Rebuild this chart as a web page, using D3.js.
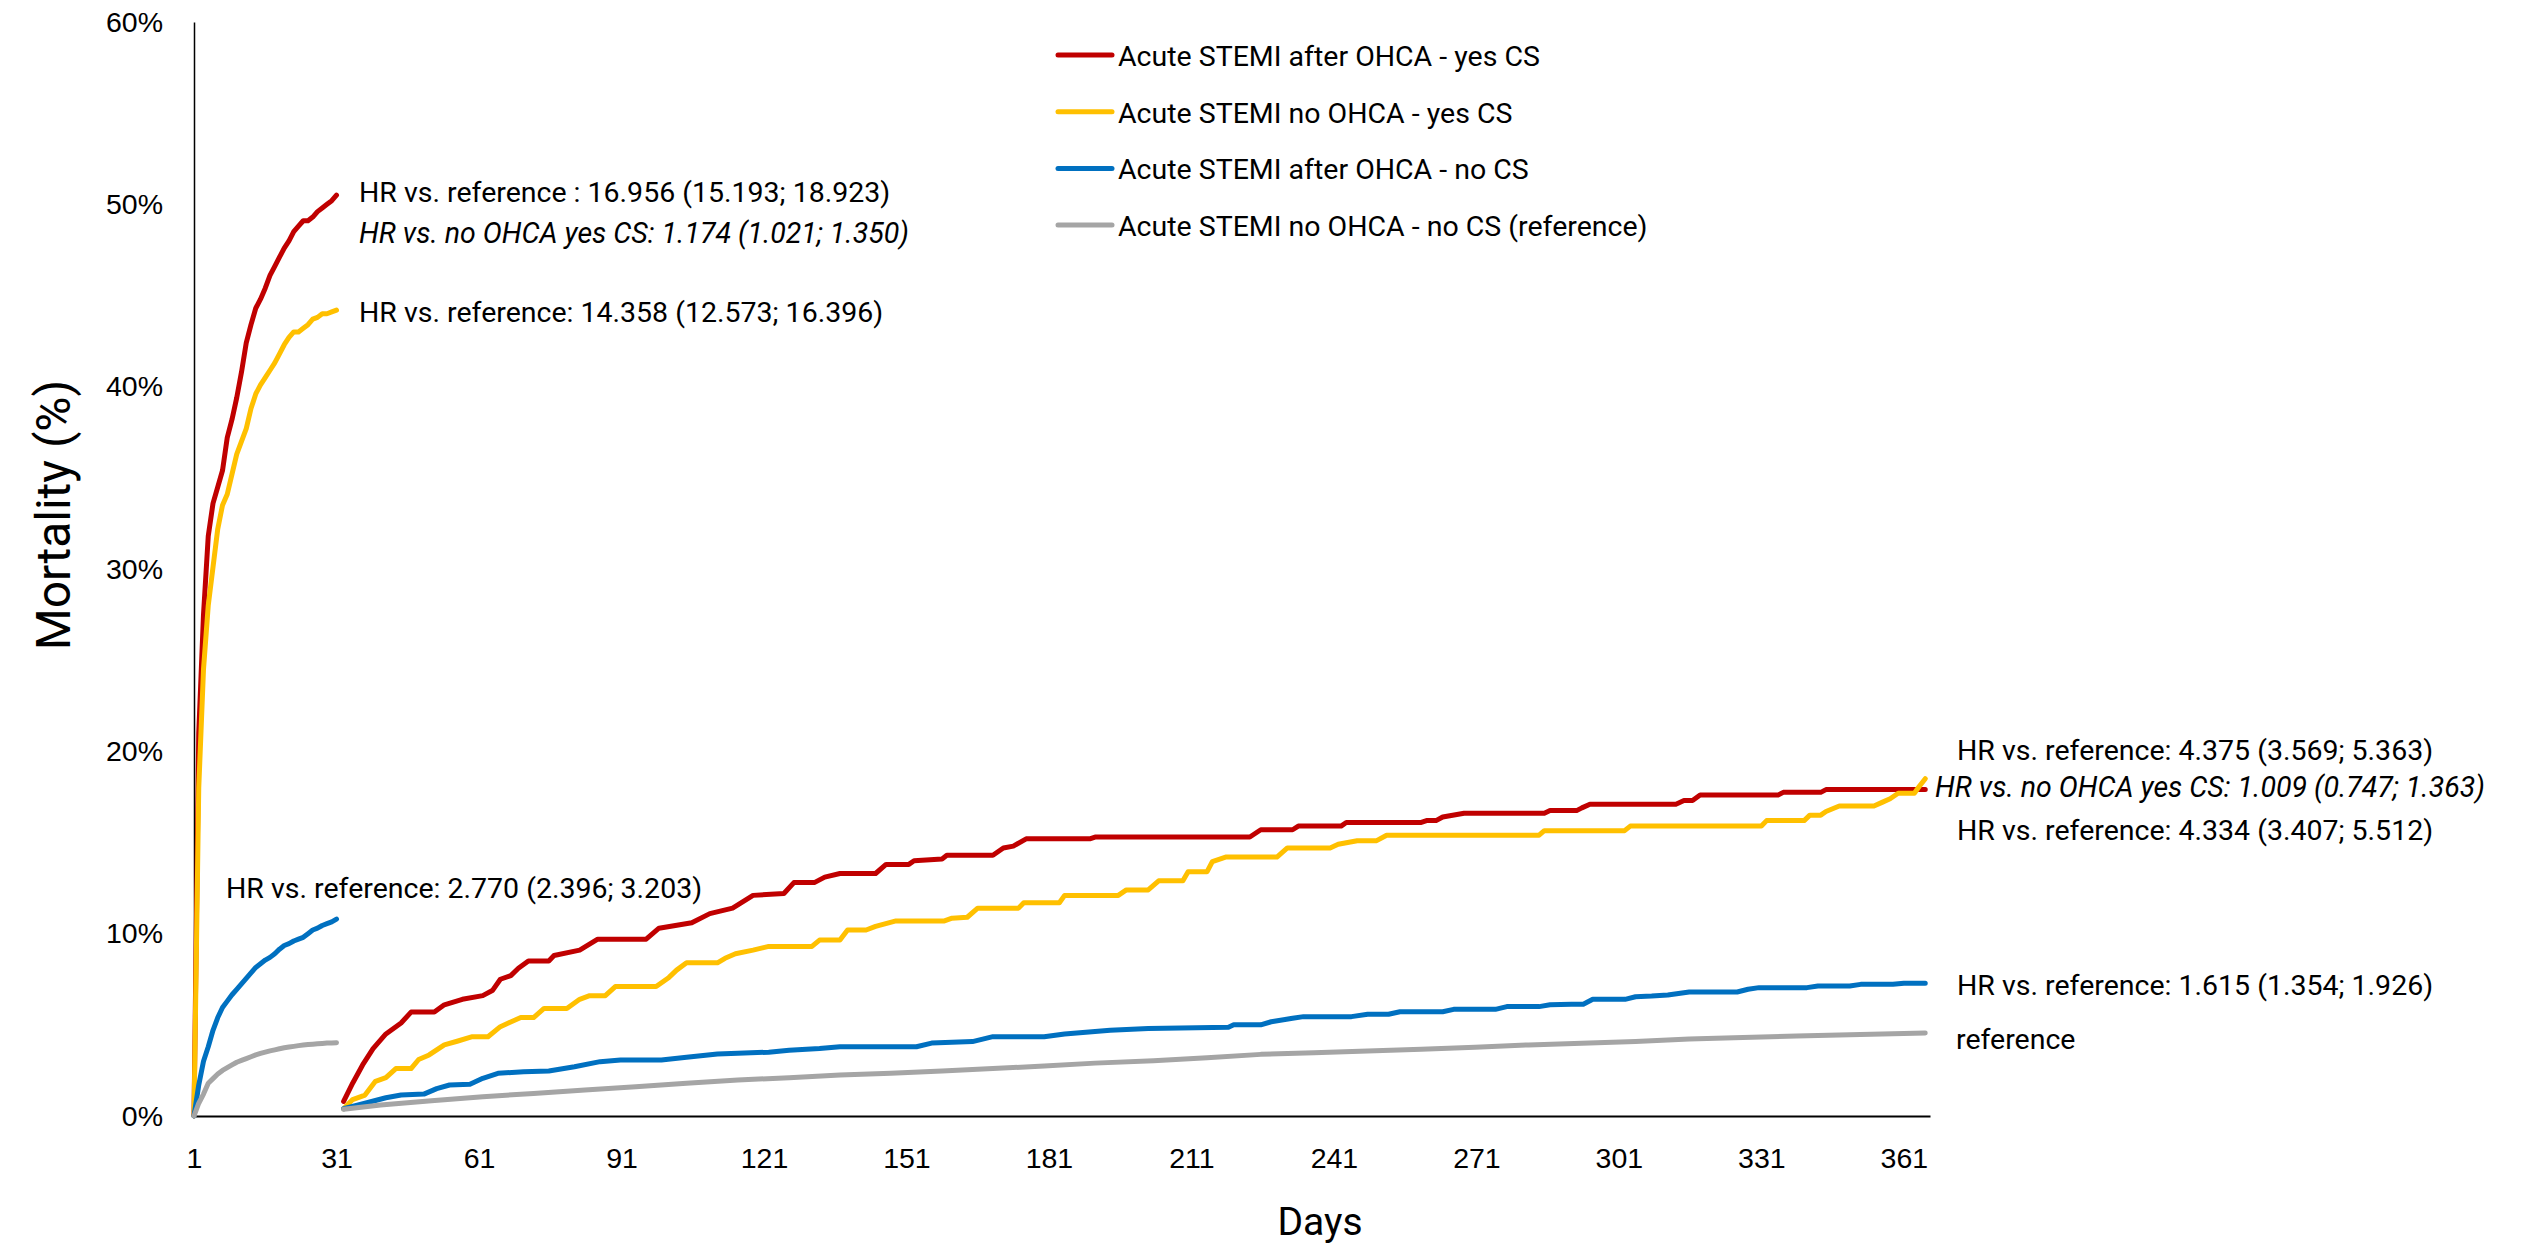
<!DOCTYPE html>
<html>
<head>
<meta charset="utf-8">
<script src="https://cdn.jsdelivr.net/npm/d3@7"></script>
<style>
  html, body { margin: 0; padding: 0; background: #fff; }
  svg { display: block; font-family: Roboto, "Liberation Sans", sans-serif; }
</style>
</head>
<body>
<svg id="chart" width="2521" height="1246"></svg>
<script>
// Landmark Kaplan-Meier style mortality curves: days 1-31 and days 31-366.
const seriesNames = [
  "Acute STEMI after OHCA - yes CS",
  "Acute STEMI no OHCA - yes CS",
  "Acute STEMI after OHCA - no CS",
  "Acute STEMI no OHCA - no CS (reference)"
];
const seriesColors = ["#C00000", "#FFC000", "#0070C0", "#A5A5A5"];

// First 30 days: cumulative mortality (%) at day 1..31
const redEarly = [0, 21, 27.5, 31.8, 33.6, 34.5, 35.4, 37.2, 38.2, 39.4, 40.8, 42.4, 43.4, 44.3, 44.8, 45.4,
  46.1, 46.6, 47.1, 47.6, 48.0, 48.5, 48.8, 49.1, 49.1, 49.3, 49.6, 49.8, 50.0, 50.2, 50.5];
const yellowEarly = [0, 18, 24.5, 28, 30.1, 32.2, 33.5, 34.1, 35.2, 36.3, 37.0, 37.7, 38.8, 39.6, 40.1, 40.5,
  40.9, 41.3, 41.8, 42.3, 42.7, 43.0, 43.0, 43.2, 43.4, 43.7, 43.8, 44.0, 44.0, 44.1, 44.2];
const blueEarly = [0, 1.7, 3.0, 3.8, 4.7, 5.4, 5.95, 6.3, 6.65, 6.95, 7.25, 7.55, 7.85, 8.15, 8.35, 8.55,
  8.7, 8.9, 9.15, 9.35, 9.45, 9.6, 9.7, 9.8, 10.0, 10.2, 10.3, 10.45, 10.55, 10.65, 10.8];
const grayEarly = [0, 0.7, 1.2, 1.8, 2.05, 2.3, 2.5, 2.65, 2.8, 2.95, 3.05, 3.15, 3.25, 3.35, 3.43, 3.5,
  3.57, 3.63, 3.69, 3.74, 3.78, 3.82, 3.86, 3.89, 3.92, 3.94, 3.96, 3.98, 4.0, 4.01, 4.02];

// Day 31 to 1 year: [day, cumulative mortality %]
const redLate = [[32.5,0.8],[34.4,1.8],[36.5,2.8],[38.7,3.7],[41.4,4.5],[44.6,5.1],[46.7,5.7],[51.6,5.7],
  [53.7,6.1],[57.5,6.4],[61.8,6.6],[63.9,6.9],[65.5,7.5],[67.7,7.7],[69.3,8.1],[71.4,8.5],[75.7,8.5],
  [76.8,8.8],[82.2,9.1],[86,9.7],[96.2,9.7],[98.9,10.3],[105.8,10.6],[109.6,11.1],[114.4,11.4],
  [118.7,12.1],[125.2,12.2],[127.3,12.8],[131.6,12.8],[133.8,13.1],[137,13.3],[144.5,13.3],[146.7,13.8],
  [151.5,13.8],[152.6,14.0],[158.5,14.1],[159.5,14.3],[169.2,14.3],[171.4,14.7],[173.5,14.8],[176.2,15.2],
  [189.6,15.2],[190.7,15.3],[223.3,15.3],[225.6,15.7],[232.3,15.7],[233.5,15.9],[242.5,15.9],[243.6,16.1],
  [259.4,16.1],[260.5,16.2],[262.5,16.2],[263.9,16.4],[268.4,16.6],[285.3,16.6],[286.5,16.75],[292.1,16.75],
  [293.2,16.9],[294.9,17.1],[313,17.1],[314.7,17.3],[316.5,17.3],[318.1,17.6],[334.5,17.6],[335.6,17.75],
  [343.5,17.75],[344.6,17.9],[365.5,17.9]];
const yellowLate = [[32.5,0.4],[34.4,0.9],[37,1.15],[39.2,1.9],[41.4,2.1],[43.5,2.6],[46.7,2.6],[48.3,3.1],
  [50.5,3.35],[53.7,3.9],[56.4,4.1],[59.6,4.35],[62.9,4.35],[65.5,4.9],[67.2,5.1],[69.8,5.4],[72.5,5.4],
  [74.7,5.9],[79.5,5.9],[82.2,6.4],[84.3,6.6],[87.6,6.6],[89.7,7.1],[98.3,7.1],[101,7.6],[102.6,8.0],
  [104.7,8.4],[111.2,8.4],[112.8,8.65],[115,8.9],[118.7,9.1],[122,9.3],[131.1,9.3],[132.7,9.65],[137,9.65],
  [138.6,10.2],[142.5,10.2],[144.5,10.4],[148.8,10.7],[159,10.7],[160.6,10.85],[163.8,10.9],[166,11.4],
  [174.6,11.4],[175.7,11.7],[183.2,11.7],[184.3,12.1],[195.6,12.1],[197.3,12.4],[201.9,12.4],[204.1,12.9],
  [209.2,12.9],[210.3,13.4],[214.3,13.4],[215.4,13.95],[218.2,14.2],[229,14.2],[231.2,14.7],[240.2,14.7],
  [241.9,14.9],[245.9,15.1],[250,15.1],[252.1,15.4],[284.2,15.4],[285.3,15.65],[302.2,15.65],[303.4,15.9],
  [331,15.9],[332.1,16.2],[340,16.2],[341.2,16.5],[343.5,16.5],[344.6,16.7],[347.4,17.0],[354.7,17.0],
  [356.4,17.2],[358.1,17.4],[359.8,17.7],[363.2,17.7],[364.3,18.1],[365.5,18.5]];
const blueLate = [[32.5,0.4],[37,0.7],[41.4,1.0],[44.6,1.15],[49.4,1.2],[52.1,1.5],[54.8,1.7],[59.1,1.74],
  [61.8,2.07],[65,2.34],[70.4,2.43],[75.7,2.47],[81.1,2.7],[86.5,2.98],[90.8,3.07],[99.4,3.07],[104.7,3.22],
  [111.2,3.4],[115.5,3.44],[122,3.5],[126.3,3.6],[132.7,3.7],[137,3.8],[153.1,3.8],[156.3,4.0],[164.9,4.08],
  [169.2,4.35],[180,4.35],[184.3,4.5],[193.9,4.7],[201.9,4.8],[218.8,4.87],[219.9,5.0],[225.6,5.0],
  [227.8,5.17],[232.3,5.36],[234.6,5.45],[244.7,5.45],[248.1,5.58],[252.5,5.58],[254.9,5.72],[263.9,5.72],
  [266.2,5.85],[275,5.85],[277.4,6.0],[284.2,6.0],[286.5,6.1],[291,6.13],[293.5,6.13],[295.5,6.4],
  [302.3,6.4],[304.5,6.54],[307.9,6.58],[311.3,6.64],[315.8,6.8],[325.9,6.8],[328.2,6.95],[330.5,7.04],
  [340.6,7.04],[342.9,7.13],[349.6,7.13],[351.9,7.22],[358.7,7.22],[361,7.28],[365.5,7.28]];
const grayLate = [[32.5,0.37],[40.3,0.6],[51,0.84],[61.8,1.06],[72.5,1.24],[83.3,1.43],[94,1.6],
  [104.7,1.8],[115.5,1.97],[126.3,2.1],[137,2.25],[147.7,2.34],[158.5,2.47],[169.2,2.6],[180,2.74],
  [190.7,2.9],[203,3.03],[214.3,3.2],[225.6,3.38],[236.8,3.47],[248.1,3.57],[259.4,3.66],[270.7,3.77],
  [282,3.9],[293.2,3.99],[304.5,4.08],[315.8,4.22],[327.1,4.3],[338.4,4.39],[349.6,4.46],[365.5,4.55]];

const xTicks = [1, 31, 61, 91, 121, 151, 181, 211, 241, 271, 301, 331, 361];
const yTicks = [0, 10, 20, 30, 40, 50, 60];

// Hazard ratio annotations: [text, italic]
const hrLabels = [
  ["HR vs. reference : 16.956 (15.193; 18.923)", false],
  ["HR vs. no OHCA yes CS: 1.174 (1.021; 1.350)", true],
  ["HR vs. reference: 14.358 (12.573; 16.396)", false],
  ["HR vs. reference: 2.770 (2.396; 3.203)", false],
  ["HR vs. reference: 4.375 (3.569; 5.363)", false],
  ["HR vs. no OHCA yes CS: 1.009 (0.747; 1.363)", true],
  ["HR vs. reference: 4.334 (3.407; 5.512)", false],
  ["HR vs. reference: 1.615 (1.354; 1.926)", false],
  ["reference", false]
];
const hrPos = [[359, 202], [359, 243], [359, 322], [226, 898], [1957, 760], [1935, 797], [1957, 840], [1957, 995], [1956, 1049]];

const svg = d3.select("#chart");
const x = d3.scaleLinear().domain([1, 366.5]).range([194, 1930]);
const y = d3.scaleLinear().domain([0, 60]).range([1116, 22]);

const fs = 28.5;

// Axes
const yAxis = d3.axisLeft(y).tickValues(yTicks).tickFormat(d => d + "%").tickSize(0).tickPadding(31);
const gy = svg.append("g").attr("transform", `translate(${x(1)},0)`).call(yAxis);
gy.select(".domain").attr("stroke", "#000").attr("stroke-width", 1.5);
gy.selectAll("text").attr("font-size", fs).attr("font-family", "inherit").attr("fill", "#000");

const xAxis = d3.axisBottom(x).tickValues(xTicks).tickFormat(d3.format("d")).tickSize(0).tickPadding(32);
const gx = svg.append("g").attr("transform", `translate(0,${y(0)})`).call(xAxis);
gx.select(".domain").attr("stroke", "#000").attr("stroke-width", 2.2);
gx.selectAll("text").attr("font-size", fs).attr("font-family", "inherit").attr("fill", "#000");

// Curves
const line = d3.line().x(d => x(d[0])).y(d => y(d[1]));
const early = [redEarly, yellowEarly, blueEarly, grayEarly].map(a => a.map((v, i) => [i + 1, v]));
const late = [redLate, yellowLate, blueLate, grayLate];

const curves = svg.append("g").attr("fill", "none").attr("stroke-width", 5)
  .attr("stroke-linecap", "round").attr("stroke-linejoin", "round");
seriesColors.forEach((c, i) => {
  curves.append("path").attr("d", line(early[i])).attr("stroke", c);
  curves.append("path").attr("d", line(late[i])).attr("stroke", c);
});

// Legend
const legend = svg.append("g").attr("transform", "translate(1058,55)");
seriesNames.forEach((n, i) => {
  const g = legend.append("g").attr("transform", `translate(0,${i * 56.7})`);
  g.append("line").attr("x1", 0).attr("x2", 54).attr("y1", 0).attr("y2", 0)
    .attr("stroke", seriesColors[i]).attr("stroke-width", 5).attr("stroke-linecap", "round");
  g.append("text").attr("x", 60).attr("y", 11).attr("font-size", fs).attr("fill", "#000").text(n);
});

// Annotations
svg.append("g").selectAll("text").data(hrLabels).join("text")
  .attr("x", (d, i) => hrPos[i][0]).attr("y", (d, i) => hrPos[i][1])
  .attr("font-size", fs).attr("fill", "#000")
  .attr("font-style", d => d[1] ? "italic" : "normal")
  .text(d => d[0]);

// Axis titles
svg.append("text").attr("x", 1320).attr("y", 1235).attr("text-anchor", "middle")
  .attr("font-size", 39).attr("fill", "#000").text("Days");
svg.append("text").attr("transform", "translate(70,515) rotate(-90)").attr("text-anchor", "middle")
  .attr("font-size", 48).attr("fill", "#000").text("Mortality (%)");
</script>
</body>
</html>
